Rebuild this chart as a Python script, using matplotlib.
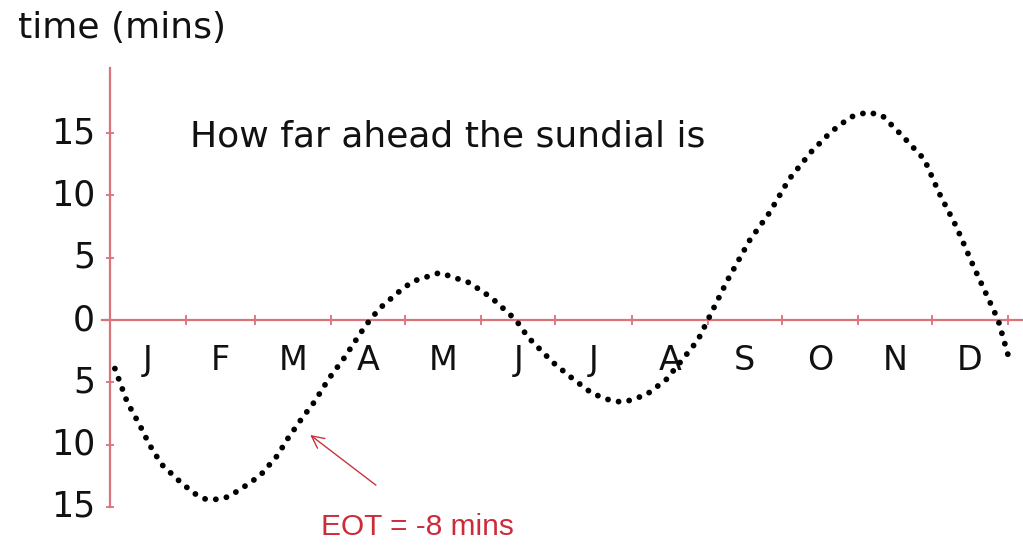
import matplotlib
matplotlib.use("Agg")
import matplotlib.pyplot as plt

# equation of time through the year (day of year, minutes the sundial is ahead)
days = [2, 7, 12, 16, 21, 28, 34, 39, 44, 48, 53, 61, 68, 72, 78, 83, 89, 95,
        102, 106, 110, 117, 123, 134, 146, 155, 165, 170, 175, 180, 188, 196,
        204, 209, 218, 226, 233, 239, 243, 251, 260, 268, 276, 285, 293, 301,
        308, 314, 322, 331, 337, 344, 351, 361, 365]
eot = [-3.9, -6.6, -8.4, -10.0, -11.6, -12.9, -13.9, -14.4, -14.4, -14.2, -13.6,
       -12.5, -10.9, -9.6, -7.9, -6.6, -4.7, -3.1, -1.0, 0.1, 1.0, 2.2, 3.1, 3.8,
       3.0, 1.8, 0.0, -1.4, -2.4, -3.4, -4.7, -5.9, -6.5, -6.6, -6.0, -4.8, -3.1,
       -1.6, 0.0, 3.2, 6.4, 8.6, 11.3, 13.5, 15.1, 16.3, 16.7, 16.4, 14.8, 12.9,
       10.2, 7.5, 4.3, 0.0, -2.8]

month_starts = [0, 31, 59, 90, 120, 151, 181, 212, 243, 273, 304, 334, 365]
month_labels = ["J", "F", "M", "A", "M", "J", "J", "A", "S", "O", "N", "D"]
y_ticks = [15, 10, 5, 0, -5, -10, -15]

annot_point = (80.5, -9.1)
annot_tail = (109, -13.4)
annot_text = "EOT = -8 mins"

axis_red = "#d9737c"

fig = plt.figure(figsize=(10.23, 5.46), dpi=100)
ax = fig.add_axes([0, 0, 1, 1])
ax.set_xlim(-44.7, 371.1)
ax.set_ylim(-18.15, 25.7)
ax.axis("off")

# red axes with small tick marks
ax.plot([0, 0], [-15.05, 20.2], color=axis_red, lw=1.6, zorder=1)
ax.plot([-3.3, 372], [0, 0], color=axis_red, lw=1.6, zorder=1)
ax.plot(month_starts, [0] * len(month_starts), ls="none", marker="|",
        ms=7, mew=1.3, color=axis_red, zorder=1)
ax.plot([0] * len(y_ticks), y_ticks, ls="none", marker="_",
        ms=6, mew=1.3, color=axis_red, zorder=1)

# y labels show magnitudes only
for v in y_ticks:
    ax.text(-6.1, v, str(abs(v)), ha="right", va="center", fontsize=25,
            color="#111111")

# month initials between the month boundaries
for i, m in enumerate(month_labels):
    mid = (month_starts[i] + month_starts[i + 1]) / 2
    ax.text(mid, -4.0, m, ha="center", va="baseline", fontsize=24,
            color="#111111")

# dotted curve
line, = ax.plot(days, eot, color="black", lw=4.2, zorder=3)
line.set_dashes([0.01, 1.85])
line.set_dash_capstyle("round")

# arrow and note
ax.annotate("", xy=annot_point, xytext=annot_tail,
            arrowprops=dict(arrowstyle="->", color="#c8343e", lw=1.0,
                            mutation_scale=22))
ax.text(125, -16.6, annot_text, ha="center", va="center", fontsize=21.5,
        color="#cc2c3a", family="Liberation Sans")

fig.text(18 / 1023, 1 - 38 / 546, "time (mins)", fontsize=26,
         va="baseline", ha="left", color="#111111")
fig.text(190 / 1023, 1 - 147 / 546, "How far ahead the sundial is",
         fontsize=26, va="baseline", ha="left", color="#111111")

fig.savefig("out.png", dpi=100, facecolor="white")
